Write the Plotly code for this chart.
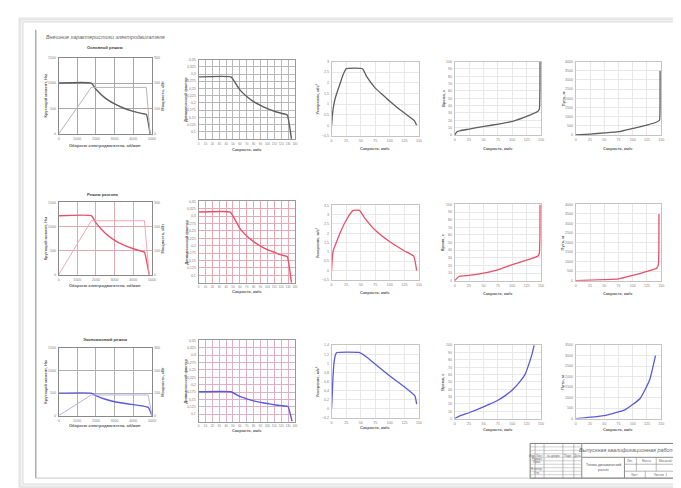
import plotly.graph_objects as go

W, H = 681, 488

# ---------------- DATA ----------------
sheet_title = "Внешние характеристики электродвигателя"
row_titles = ["Основной режим", "Режим разгона", "Экономичный режим"]

# column 1: torque / power vs rpm
rpm_t = [
    [0, 1750, 2000, 2500, 3000, 3500, 4000, 4500, 4700, 4900],
    [0, 1750, 2000, 2500, 3000, 3500, 4000, 4500, 4600, 4850],
    [0, 1750, 2000, 2500, 3000, 3500, 4000, 4500, 4800, 5000],
]
torque = [
    [1000, 1000, 880, 705, 590, 505, 445, 400, 385, 0],
    [1225, 1225, 1075, 860, 715, 615, 540, 480, 470, 0],
    [500, 500, 445, 365, 310, 275, 245, 215, 185, 0],
]
rpm_p = [
    [0, 1750, 4700, 4900],
    [0, 1750, 4600, 4850],
    [0, 1750, 4800, 5000],
]
power = [
    [0, 183, 183, 0],
    [0, 224, 224, 0],
    [0, 92, 92, 0],
]

# column 2: dynamic factor vs speed
speed_d = [
    [0, 47, 60, 70, 80, 90, 100, 110, 120, 129, 135],
    [0, 46, 60, 70, 80, 90, 100, 110, 120, 129, 135],
    [0, 47, 60, 70, 80, 90, 100, 110, 120, 130, 136],
]
dyn = [
    [0.29, 0.29, 0.245, 0.222, 0.204, 0.191, 0.18, 0.171, 0.164, 0.158, 0.075],
    [0.314, 0.314, 0.259, 0.233, 0.214, 0.199, 0.187, 0.178, 0.169, 0.163, 0.075],
    [0.176, 0.176, 0.16, 0.152, 0.145, 0.14, 0.136, 0.132, 0.129, 0.126, 0.075],
]

# column 3: acceleration vs speed
speed_a = [
    [0, 1, 3, 6, 10, 15, 20, 25, 53, 60, 75, 90, 100, 112, 125, 142, 146],
    [0, 1, 3, 8, 15, 25, 37, 48, 55, 75, 100, 125, 141, 146],
    [0, 2, 4, 7, 9, 47, 60, 75, 100, 125, 143, 146],
]
acc = [
    [0, 0.4, 0.85, 1.25, 1.6, 2.0, 2.4, 2.66, 2.66, 2.3, 1.75, 1.38, 1.13, 0.85, 0.58, 0.22, 0.0],
    [0, 0.6, 1.1, 1.5, 2.05, 2.7, 3.23, 3.23, 2.9, 2.16, 1.54, 1.05, 0.77, 0.0],
    [0.0, 0.6, 1.0, 1.2, 1.24, 1.24, 1.14, 0.98, 0.72, 0.48, 0.28, 0.1],
]

# column 4: time vs speed
speed_t = [
    [0, 4, 10, 25, 51, 76, 102, 127, 144, 147, 148, 148.2],
    [0, 7, 25, 50, 75, 100, 125, 144, 147, 148, 148.2],
    [0, 10, 25, 53, 75, 87, 100, 113, 122, 130, 135, 138],
]
time_s = [
    [0, 4.5, 6, 8, 11.7, 14.8, 19, 26, 32, 35, 60, 100],
    [0, 5.6, 7, 10, 14.3, 21, 27, 32, 36, 60, 100],
    [0, 4, 8, 17, 25, 31, 39, 50, 60, 77, 90, 100],
]

# column 5: distance vs speed
speed_s = [
    [0, 25, 50, 75, 100, 125, 143, 147, 148, 148.1],
    [0, 25, 50, 75, 100, 125, 142, 145, 146, 146.1],
    [0, 19, 53, 87, 113, 130, 140],
]
dist = [
    [0, 50, 110, 180, 360, 540, 720, 800, 2000, 3500],
    [0, 30, 60, 100, 280, 490, 660, 830, 2000, 3500],
    [0, 50, 160, 430, 960, 1870, 3000],
]

# axis ranges per row
acc_range = [[-0.5, 3], [-0.5, 3.5], [-0.2, 1.4]]
acc_dtick = [0.5, 0.5, 0.2]
dist_range = [[0, 4000], [0, 4000], [0, 3500]]

# ---------------- STYLE ----------------
line_col = ["#5e5e5e", "#e8506a", "#5a5ad8"]
pow_col = ["#b4b4b4", "#f2a6b2", "#b2b2ee"]
grid1_col = ["#a8a8a8", "#dcaab0", "#b0b0b0"]
grid2_col = ["#b8b8b8", "#eaa8b2", "#ddb0c8"]
light_grid = "#e8e8e8"
FONT = "Liberation Sans"
TF = dict(size=3.6, color="#808080", family=FONT)

colx = [(50, 144), (191, 288), (325, 413), (449, 536), (571, 657)]
rowy = [
    [(48, 125), (50, 130), (52, 127), (52, 126), (52, 126)],
    [(194, 267), (193, 275), (197, 272), (196, 273), (196, 273)],
    [(341, 409), (333, 415), (338, 411), (338, 412), (338, 412)],
]
xtitle_y = [[137, 141, 140, 140, 140], [278, 284, 285, 286, 286], [419, 424, 421, 423, 423]]


def px(x):
    return x / W


def py(y):
    return 1 - y / H


fig = go.Figure()
layout = dict(width=W, height=H, margin=dict(l=0, r=0, t=0, b=0), autosize=False,
              paper_bgcolor="white", plot_bgcolor="white", showlegend=False,
              separators=", ", font=dict(family=FONT))
annotations = []
shapes = []


def ann(x, y, text, size=4, color="#5a5a5a", angle=0, xanchor="center", **kw):
    annotations.append(dict(x=px(x), y=py(y), xref="paper", yref="paper", text=text,
                            showarrow=False, textangle=angle, xanchor=xanchor, yanchor="middle",
                            font=dict(size=size, color=color, family=FONT), **kw))


def axis_common(linecolor, gridcolor):
    return dict(showline=True, mirror=True, linecolor=linecolor, linewidth=1,
                showgrid=True, gridcolor=gridcolor, gridwidth=1, zeroline=False,
                ticks="", tickfont=TF, fixedrange=True, ticklabelstandoff=1, tickangle=0)


for r in range(3):
    for c in range(5):
        i = r * 5 + c + 1
        sfx = "" if i == 1 else str(i)
        x0, x1 = colx[c]
        y0, y1 = rowy[r][c]
        xa = dict(domain=[px(x0), px(x1)], anchor="y" + sfx)
        ya = dict(domain=[py(y1), py(y0)], anchor="x" + sfx)
        if c == 0:
            xa.update(axis_common("#888888", grid1_col[r]), range=[0, 5000], dtick=1000, tick0=0)
            ya.update(axis_common("#888888", grid1_col[r]), range=[0, 1500], dtick=500, tick0=0)
            j = 15 + r + 1
            layout["yaxis" + str(j)] = dict(overlaying="y" + sfx, side="right", anchor="x" + sfx,
                                            range=[0, 300], dtick=100, tick0=0, showgrid=False,
                                            zeroline=False, showline=False, ticks="", tickfont=TF,
                                            fixedrange=True, ticklabelstandoff=1)
            fig.add_trace(go.Scatter(x=rpm_p[r], y=power[r], mode="lines",
                                     line=dict(color=pow_col[r], width=1),
                                     xaxis="x" + sfx, yaxis="y" + str(j), hoverinfo="skip"))
            fig.add_trace(go.Scatter(x=rpm_t[r], y=torque[r], mode="lines",
                                     line=dict(color=line_col[r], width=1.4, shape="spline", smoothing=0.4),
                                     xaxis="x" + sfx, yaxis="y" + sfx, hoverinfo="skip"))
            ann((x0 + x1) / 2, xtitle_y[r][c], "<b>Обороты электродвигателя, об/мин</b>")
            ann(37, (y0 + y1) / 2, "<b>Крутящий момент, Нм</b>", angle=-90)
            ann(155, (y0 + y1) / 2, "<b>Мощность, кВт</b>", angle=-90)
        elif c == 1:
            xa.update(axis_common("#999999", grid2_col[r]), range=[0, 140], dtick=10, tick0=0)
            ya.update(axis_common("#999999", grid2_col[r]), range=[0.075, 0.35],
                      tickvals=[0.1, 0.125, 0.15, 0.175, 0.2, 0.225, 0.25, 0.275, 0.3, 0.325, 0.35])
            xa["tickfont"] = dict(size=3, color="#808080", family=FONT)
            fig.add_trace(go.Scatter(x=speed_d[r], y=dyn[r], mode="lines",
                                     line=dict(color=line_col[r], width=1.4, shape="spline", smoothing=0.3),
                                     xaxis="x" + sfx, yaxis="y" + sfx, hoverinfo="skip"))
            ann((x0 + x1) / 2, xtitle_y[r][c], "<b>Скорость, км/ч</b>")
            ann(178, (y0 + y1) / 2, "<b>Динамический фактор</b>", angle=-90)
        else:
            xa.update(axis_common("#c4c4c4", light_grid), range=[0, 150], dtick=25, tick0=0)
            if c == 2:
                ya.update(axis_common("#c4c4c4", light_grid), range=acc_range[r], dtick=acc_dtick[r],
                          tick0=acc_range[r][0])
                xs, ys, lab, lx = speed_a[r], acc[r], "<b>Ускорение, м/с²</b>", 311
            elif c == 3:
                ya.update(axis_common("#c4c4c4", light_grid), range=[0, 100], dtick=10, tick0=0)
                xs, ys, lab, lx = speed_t[r], time_s[r], "<b>Время, с</b>", 437
            else:
                ya.update(axis_common("#c4c4c4", light_grid), range=dist_range[r], dtick=500, tick0=0)
                xs, ys, lab, lx = speed_s[r], dist[r], "<b>Путь, м</b>", 558
            fig.add_trace(go.Scatter(x=xs, y=ys, mode="lines",
                                     line=dict(color=line_col[r], width=1.3, shape="spline", smoothing=0.4),
                                     xaxis="x" + sfx, yaxis="y" + sfx, hoverinfo="skip", cliponaxis=True))
            ann((x0 + x1) / 2, xtitle_y[r][c], "<b>Скорость, км/ч</b>")
            ann(lx, (y0 + y1) / 2, lab, angle=-90)
        layout["xaxis" + sfx] = xa
        layout["yaxis" + sfx] = ya

row_title_pos = [(97, 38), (95, 186), (97, 332)]
for (tx, ty), t in zip(row_title_pos, row_titles):
    ann(tx, ty, "<b>" + t + "</b>", size=4.2, color="#444444")
ann(35, 27, "<i>" + sheet_title + "</i>", size=5.4, color="#666666", xanchor="left")


def line(xa_, ya_, xb, yb, color="#8a8a8a", width=1):
    shapes.append(dict(type="line", xref="paper", yref="paper", x0=px(xa_), y0=py(ya_),
                       x1=px(xb), y1=py(yb), line=dict(color=color, width=width)))


def rect(xa_, ya_, xb, yb, color="#8a8a8a", width=1):
    shapes.append(dict(type="rect", xref="paper", yref="paper", x0=px(xa_), y0=py(ya_),
                       x1=px(xb), y1=py(yb), line=dict(color=color, width=width)))


rect(11, 9, 674, 481, color="#e6e6e6", width=3)
rect(14, 12, 671, 478, color="#d4d4d4", width=1)
line(27, 20, 27, 472, color="#9a9a9a", width=1.2)
line(27, 472, 671, 472, color="#c8c8c8", width=1)

tb_x0, tb_x1, tb_y0, tb_y1 = 525, 671, 437, 472
rect(tb_x0, tb_y0, tb_x1, tb_y1, color="#7a7a7a", width=1)
line(577, tb_y0, 577, tb_y1)
line(577, 451, tb_x1, 451)
line(620, 451, 620, tb_y1)
line(620, 458, tb_x1, 458, width=0.6)
line(620, 465, tb_x1, 465, width=0.6)
line(632, 451, 632, 465, width=0.6)
line(652, 451, 652, 465, width=0.6)
line(641, 465, 641, tb_y1, width=0.6)
for xv in [530, 539, 558, 569]:
    line(xv, tb_y0, xv, tb_y1, width=0.6)
for yv in [440.5, 444, 447.5, 451, 454.5, 458, 461.5, 465, 468.5]:
    line(tb_x0, yv, 577, yv, width=0.5, color="#a0a0a0")

ann(624, 444, "<i>Выпускная квалификационная работа</i>", size=5.4, color="#666666")
ann(598.5, 459, "Тягово-динамический", size=3.5, color="#555555")
ann(598.5, 463.5, "расчёт", size=3.5, color="#555555")
small = dict(size=3, color="#666666")
ann(626, 454.5, "Лит.", **small)
ann(642, 454.5, "Масса", **small)
ann(661.5, 454.5, "Масштаб", **small)
ann(630.5, 468.5, "Лист", **small)
ann(656, 468.5, "Листов  1", **small)
tiny = dict(size=3, color="#666666")
ann(527.5, 449.2, "Изм.", **tiny)
ann(534.5, 449.2, "Лист", **tiny)
ann(548.5, 449.2, "№ докум.", **tiny)
ann(563.5, 449.2, "Подп.", **tiny)
ann(573, 449.2, "Дата", **tiny)
ann(532, 452.7, "Разраб.", **tiny)
ann(532, 456.2, "Пров.", **tiny)
ann(532, 463.2, "Н.контр.", **tiny)
ann(532, 466.7, "Утв.", **tiny)

layout["annotations"] = annotations
layout["shapes"] = shapes
fig.update_layout(**layout)
fig.write_html("out.html")
